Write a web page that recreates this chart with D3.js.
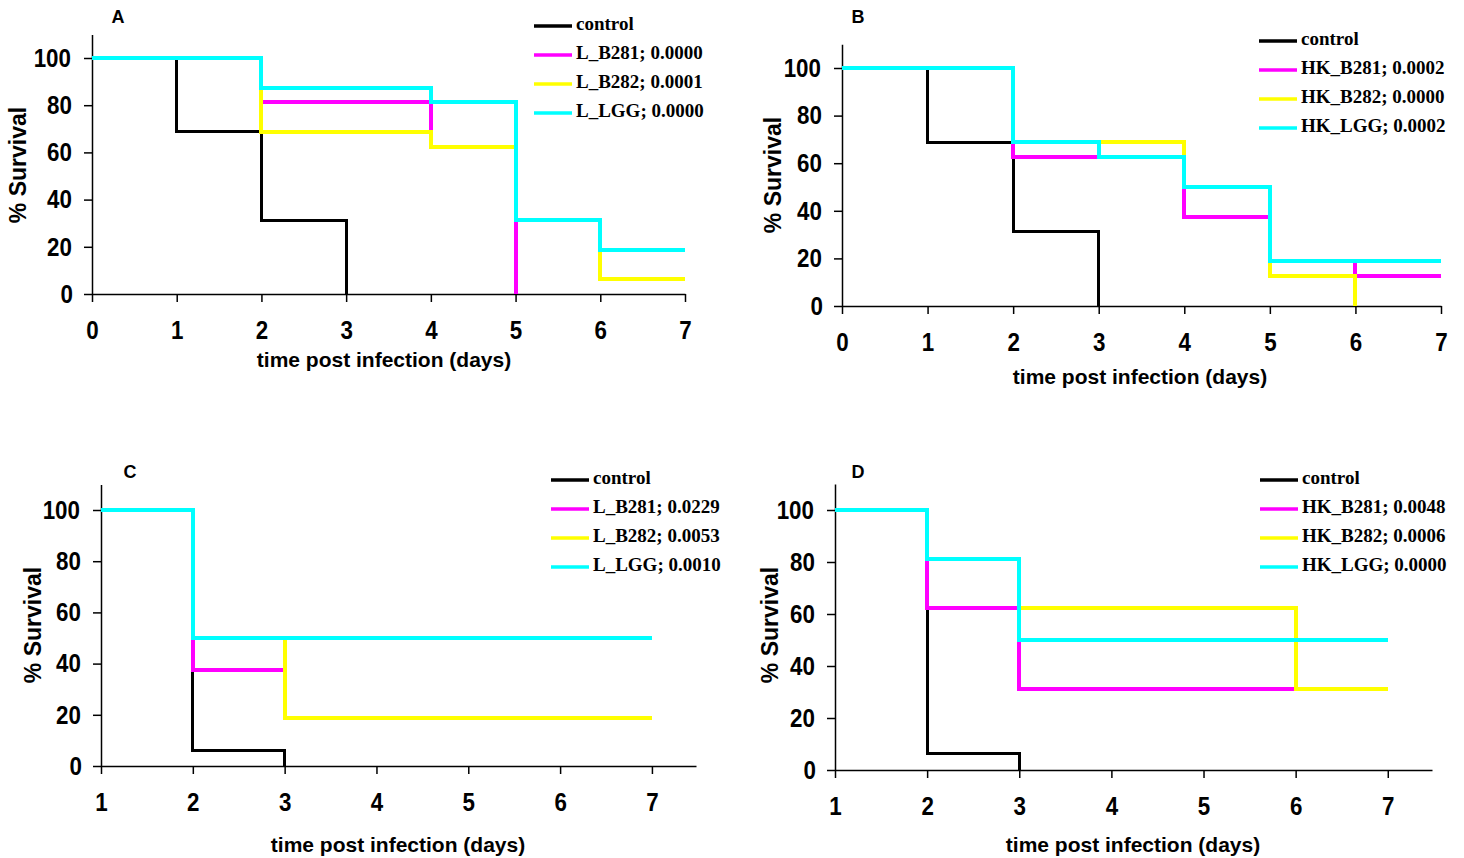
<html>
  <head>
    <title>Survival</title>
    <meta charset="utf-8" />
    <script src="https://cdnjs.cloudflare.com/ajax/libs/d3/7.8.5/d3.min.js"></script>
    <style>
      body { margin: 0; background: #fff; }
      svg { display: block; background: #fff; }
      .axis path, .axis line { stroke: #000; stroke-width: 1.5px; }
      .axis text {
        font-family: "Liberation Sans", Arial, sans-serif;
        font-weight: bold; font-size: 26px; fill: #000;
        transform-box: fill-box; transform-origin: center;
        transform: scaleX(0.86);
      }
      .title {
        font-family: "Liberation Sans", Arial, sans-serif;
        font-weight: bold; font-size: 21px;
      }
      .ytitle { font-size: 23px; }
      .legend text {
        font-family: "Liberation Serif", "Times New Roman", serif;
        font-weight: bold; font-size: 19px;
      }
      .letter {
        font-family: "Liberation Sans", Arial, sans-serif;
        font-weight: bold; font-size: 18px;
      }
    </style>
  </head>
  <body>
    <svg width="1464" height="858"></svg>
  </body>

  <script>
    const colors = ["#000000", "#ff00ff", "#ffff00", "#00ffff"];
    const yTicks = [0, 20, 40, 60, 80, 100];
    const xTicksAB = [0, 1, 2, 3, 4, 5, 6, 7];
    const xTicksCD = [1, 2, 3, 4, 5, 6, 7];

    // panel A
    const aNames = ["control", "L_B281; 0.0000", "L_B282; 0.0001", "L_LGG; 0.0000"];
    const aTimes = [[0, 1, 2, 3], [0, 2, 4, 5], [0, 2, 4, 5, 6, 7], [0, 2, 4, 5, 6, 7]];
    const aSurv = [[100, 68.75, 31.25, 0], [100, 81.25, 62.5, 0],
      [100, 68.75, 62.5, 31.25, 6.25, 6.25], [100, 87.5, 81.25, 31.25, 18.75, 18.75]];

    // panel B
    const bNames = ["control", "HK_B281; 0.0002", "HK_B282; 0.0000", "HK_LGG; 0.0002"];
    const bTimes = [[0, 1, 2, 3], [0, 2, 4, 5, 6, 7], [0, 2, 4, 5, 6], [0, 2, 3, 4, 5, 7]];
    const bSurv = [[100, 68.75, 31.25, 0], [100, 62.5, 37.5, 18.75, 12.5, 12.5],
      [100, 68.75, 50, 12.5, 0], [100, 68.75, 62.5, 50, 18.75, 18.75]];

    // panel C
    const cNames = ["control", "L_B281; 0.0229", "L_B282; 0.0053", "L_LGG; 0.0010"];
    const cTimes = [[1, 2, 3], [1, 2, 3, 7], [1, 2, 3, 7], [1, 2, 7]];
    const cSurv = [[100, 6.25, 0], [100, 37.5, 18.75, 18.75], [100, 50, 18.75, 18.75], [100, 50, 50]];

    // panel D
    const dNames = ["control", "HK_B281; 0.0048", "HK_B282; 0.0006", "HK_LGG; 0.0000"];
    const dTimes = [[1, 2, 3], [1, 2, 3, 7], [1, 2, 3, 6, 7], [1, 2, 3, 7]];
    const dSurv = [[100, 6.25, 0], [100, 62.5, 31.25, 31.25], [100, 81.25, 62.5, 31.25, 31.25], [100, 81.25, 50, 50]];

    const svg = d3.select("svg");

    const panels = [
      { letter: "A", names: aNames, times: aTimes, surv: aSurv, xTicks: xTicksAB,
        xDom: [0, 7], xRange: [92, 685], yRange: [294, 34.4],
        letterPos: [118, 18], legend: [534, 26], xTitle: [384, 361], yTitle: [20, 165] },
      { letter: "B", names: bNames, times: bTimes, surv: bSurv, xTicks: xTicksAB,
        xDom: [0, 7], xRange: [842, 1441], yRange: [306, 44.2],
        letterPos: [858, 18], legend: [1259, 41], xTitle: [1140, 378], yTitle: [775, 175] },
      { letter: "C", names: cNames, times: cTimes, surv: cSurv, xTicks: xTicksCD,
        xDom: [1, 7.48], xRange: [101, 696], yRange: [766, 484.4],
        letterPos: [130, 473], legend: [551, 480], xTitle: [398, 846], yTitle: [35, 625] },
      { letter: "D", names: dNames, times: dTimes, surv: dSurv, xTicks: xTicksCD,
        xDom: [1, 7.48], xRange: [835, 1432], yRange: [770, 484],
        letterPos: [858, 473], legend: [1260, 480], xTitle: [1133, 846], yTitle: [772, 625] }
    ];

    panels.forEach(drawPanel);

    function drawPanel(p) {
      const xScale = d3.scaleLinear().domain(p.xDom).range(p.xRange);
      const yScale = d3.scaleLinear().domain([0, 110]).range(p.yRange);
      const g = svg.append("g");

      const xAxis = d3.axisBottom(xScale).tickValues(p.xTicks)
        .tickSize(8).tickSizeOuter(0).tickPadding(19).tickFormat(d3.format("d"));
      g.append("g").attr("class", "axis")
        .attr("transform", `translate(0,${p.yRange[0]})`).call(xAxis);

      const yAxis = d3.axisLeft(yScale).tickValues(yTicks)
        .tickSize(8).tickSizeOuter(0).tickPadding(10);
      g.append("g").attr("class", "axis")
        .attr("transform", `translate(${p.xRange[0]},0)`).call(yAxis);

      const line = d3.line()
        .x((d) => xScale(d[0]))
        .y((d) => yScale(d[1]))
        .curve(d3.curveStepAfter);

      p.times.forEach((t, i) => {
        const pts = t.map((v, j) => [v, p.surv[i][j]]);
        g.append("path")
          .attr("d", line(pts))
          .attr("fill", "none")
          .attr("stroke", colors[i])
          .attr("stroke-width", i === 0 ? 3 : 4)
          .attr("shape-rendering", "crispEdges");
      });

      g.append("text").attr("class", "letter")
        .attr("x", p.letterPos[0]).attr("y", p.letterPos[1])
        .attr("text-anchor", "middle").attr("dominant-baseline", "middle")
        .text(p.letter);

      g.append("text").attr("class", "title")
        .attr("x", p.xTitle[0]).attr("y", p.xTitle[1])
        .attr("text-anchor", "middle").attr("dominant-baseline", "middle")
        .text("time post infection (days)");

      g.append("text").attr("class", "title ytitle")
        .attr("transform", `translate(${p.yTitle[0]},${p.yTitle[1]}) rotate(-90)`)
        .attr("text-anchor", "middle").attr("dominant-baseline", "middle")
        .text("% Survival");

      const lg = g.append("g").attr("class", "legend");
      p.names.forEach((n, i) => {
        const y = p.legend[1] + i * 29;
        lg.append("line")
          .attr("x1", p.legend[0]).attr("x2", p.legend[0] + 38)
          .attr("y1", y).attr("y2", y)
          .attr("stroke", colors[i]).attr("stroke-width", 3.5);
        lg.append("text")
          .attr("x", p.legend[0] + 42).attr("y", y)
          .attr("dominant-baseline", "middle")
          .text(n);
      });
    }
  </script>
</html>
